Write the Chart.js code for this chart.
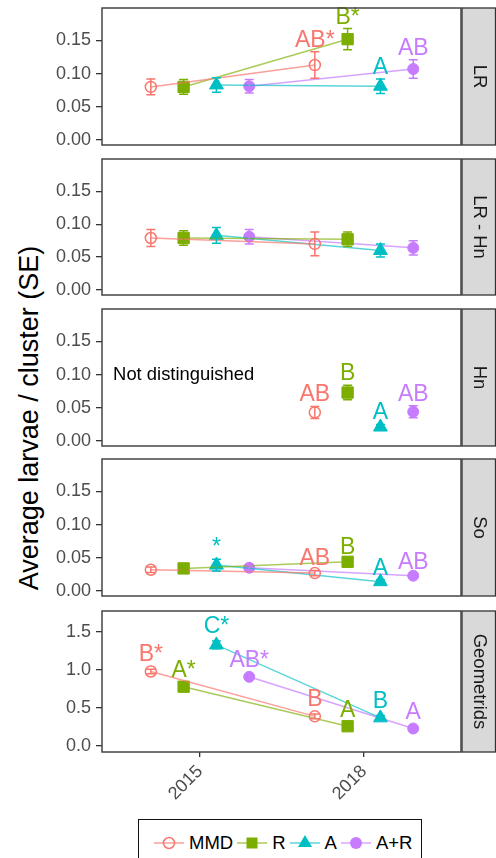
<!DOCTYPE html>
<html>
<head>
<meta charset="utf-8">
<script src="https://cdn.jsdelivr.net/npm/chart.js@4.4.1/dist/chart.umd.min.js"></script>
<style>
  html, body { margin: 0; padding: 0; background: #fff; }
  body { width: 496px; height: 858px; position: relative; overflow: hidden;
         font-family: 'Liberation Sans', Arial, sans-serif; }
  canvas { position: absolute; left: 0; }
  #ytitle { position: absolute; left: 29px; top: 418px; line-height: 1;
            transform: translate(-50%, -50%) rotate(-90deg);
            white-space: nowrap; font-size: 27px; color: #000; }
  #legend { position: absolute; left: 138px; top: 819px; width: 284px; height: 60px;
            border: 1.5px solid #111; display: flex; align-items: flex-start;
            padding: 13px 0 0 15px; box-sizing: border-box; font-size: 18.5px; color: #000; }
  #legend .item { display: flex; align-items: center; }
  #legend svg { display: block; }
  #legend .lab { margin: 0 4px 0 5px; line-height: 20px; }
</style>
</head>
<body>
<div id="ytitle">Average larvae / cluster (SE)</div>
<div id="legend"></div>
<script>
// facets, groups and sampling years
const panels = ['LR', 'LR - Hn', 'Hn', 'So', 'Geometrids'];
const groups = ['MMD', 'R', 'A', 'A+R'];
const years = [2015, 2018];

// means per group as [2015, 2018]
const meanLR   = [[0.080, 0.113], [0.080, 0.152], [0.083, 0.081], [0.081, 0.107]];
const meanLRHn = [[0.079, 0.070], [0.079, 0.077], [0.083, 0.060], [0.081, 0.064]];
const meanHn   = [[null, 0.043], [null, 0.073], [null, 0.021], [null, 0.044]];
const meanSo   = [[0.032, 0.027], [0.034, 0.044], [0.039, 0.014], [0.035, 0.023]];
const meanGeo  = [[0.98, 0.39], [0.78, 0.26], [1.33, 0.37], [0.91, 0.23]];

// standard errors, same layout
const seLR   = [[0.012, 0.020], [0.011, 0.016], [0.011, 0.011], [0.010, 0.014]];
const seLRHn = [[0.013, 0.018], [0.011, 0.011], [0.012, 0.010], [0.011, 0.011]];
const seHn   = [[null, 0.009], [null, 0.011], [null, 0.004], [null, 0.009]];
const seSo   = [[0.004, 0.004], [0.003, 0.004], [0.009, 0.003], [0.004, 0.003]];
const seGeo  = [[0.03, 0.03], [0.02, 0.02], [0.05, 0.03], [0.02, 0.02]];

// significance letters
const letLR   = [['', 'AB*'], ['', 'B*'], ['', 'A'], ['', 'AB']];
const letLRHn = [['', ''], ['', ''], ['', ''], ['', '']];
const letHn   = [['', 'AB'], ['', 'B'], ['', 'A'], ['', 'AB']];
const letSo   = [['', 'AB'], ['', 'B'], ['*', 'A'], ['', 'AB']];
const letGeo  = [['B*', 'B'], ['A*', 'A'], ['C*', 'B'], ['AB*', 'A']];

const yTicksSmall = [0, 0.05, 0.10, 0.15];
const yTicksGeo = [0, 0.5, 1.0, 1.5];

const means = [meanLR, meanLRHn, meanHn, meanSo, meanGeo];
const ses = [seLR, seLRHn, seHn, seSo, seGeo];
const lets = [letLR, letLRHn, letHn, letSo, letGeo];
const yTicks = [yTicksSmall, yTicksSmall, yTicksSmall, yTicksSmall, yTicksGeo];

// look
const colors = ['#F8766D', '#7CAE00', '#00BFC4', '#C77CFF'];
const lineColors = ['rgba(248,118,109,0.7)', 'rgba(124,174,0,0.65)', 'rgba(0,191,196,0.65)', 'rgba(199,124,255,0.7)'];
const shapes = ['circle', 'rect', 'triangle', 'circle'];
const filled = [false, true, true, true];
const radii = [5.5, 8, 8, 5.5];
const dodge = [-0.9, -0.3, 0.3, 0.9];

const boxTop = [8, 159, 309, 459, 611];
const boxBottom = [145, 295, 446, 596, 752];
const yMin = [-0.0076, -0.0076, -0.0076, -0.0076, -0.079];
const yMax = [0.199, 0.199, 0.199, 0.199, 1.776];
const labelGap = [5, 5, 5, 5, 8];
const PAD = 20;

Chart.defaults.font.family = "'Liberation Sans', Arial, sans-serif";

const facetPlugin = {
  id: 'facet',
  afterDatasetsDraw(chart, args, opts) {
    const { ctx, scales: { x, y } } = chart;
    const p = opts.panel;
    ctx.save();
    groups.forEach((g, gi) => {
      years.forEach((yr, ti) => {
        const m = means[p][gi][ti];
        if (m == null) return;
        const s = ses[p][gi][ti];
        const px = x.getPixelForValue(yr + dodge[gi]);
        const top = y.getPixelForValue(m + s);
        const bot = y.getPixelForValue(m - s);
        ctx.strokeStyle = colors[gi];
        ctx.lineWidth = 1.5;
        ctx.beginPath();
        ctx.moveTo(px, top); ctx.lineTo(px, bot);
        ctx.moveTo(px - 4.5, top); ctx.lineTo(px + 4.5, top);
        ctx.moveTo(px - 4.5, bot); ctx.lineTo(px + 4.5, bot);
        ctx.stroke();
        const lab = lets[p][gi][ti];
        if (lab) {
          ctx.fillStyle = colors[gi];
          ctx.font = "23px 'Liberation Sans', Arial, sans-serif";
          ctx.textAlign = 'center';
          ctx.textBaseline = 'alphabetic';
          ctx.fillText(lab, px, top - labelGap[p]);
        }
      });
    });
    if (panels[p] === 'Hn') {
      ctx.fillStyle = '#000';
      ctx.font = "18.4px 'Liberation Sans', Arial, sans-serif";
      ctx.textAlign = 'left';
      ctx.textBaseline = 'middle';
      ctx.fillText('Not distinguished', x.getPixelForValue(2013.41), y.getPixelForValue(0.1));
    }
    ctx.restore();
  },
  afterDraw(chart, args, opts) {
    const { ctx, chartArea: a, width } = chart;
    ctx.save();
    // strip
    ctx.fillStyle = '#D9D9D9';
    ctx.fillRect(a.right + 1, a.top, width - a.right - 1, a.bottom - a.top);
    ctx.strokeStyle = '#333';
    ctx.lineWidth = 1.3;
    ctx.strokeRect(a.right + 1, a.top, width - a.right - 1.5, a.bottom - a.top);
    ctx.fillStyle = '#1A1A1A';
    ctx.font = "18.5px 'Liberation Sans', Arial, sans-serif";
    ctx.textAlign = 'center';
    ctx.textBaseline = 'middle';
    ctx.translate((a.right + 1 + width) / 2, (a.top + a.bottom) / 2);
    ctx.rotate(Math.PI / 2);
    ctx.fillText(panels[opts.panel], 0, 0);
    ctx.restore();
    // panel border
    ctx.save();
    ctx.strokeStyle = '#444';
    ctx.lineWidth = 1.5;
    ctx.strokeRect(a.left, a.top, a.right - a.left, a.bottom - a.top);
    ctx.restore();
  }
};

panels.forEach((name, p) => {
  const last = p === panels.length - 1;
  const cv = document.createElement('canvas');
  const top = boxTop[p] - PAD;
  const h = last ? 819 - top : (boxBottom[p] - boxTop[p]) + 2 * PAD;
  cv.width = 496; cv.height = h;
  cv.style.top = top + 'px';
  cv.style.width = '496px'; cv.style.height = h + 'px';
  document.body.appendChild(cv);

  new Chart(cv, {
    type: 'scatter',
    data: {
      datasets: groups.map((g, gi) => ({
        label: g,
        data: years.map((yr, ti) => ({ x: yr + dodge[gi], y: means[p][gi][ti] })),
        showLine: true,
        borderColor: lineColors[gi],
        borderWidth: 1.5,
        pointStyle: shapes[gi],
        pointRadius: radii[gi],
        pointBackgroundColor: filled[gi] ? colors[gi] : 'rgba(255,255,255,0)',
        pointBorderColor: colors[gi],
        pointBorderWidth: filled[gi] ? 1 : 1.5
      }))
    },
    options: {
      responsive: false,
      animation: false,
      events: [],
      clip: false,
      layout: { padding: { top: PAD, bottom: last ? 0 : PAD, left: 0, right: 35 } },
      plugins: { legend: { display: false }, tooltip: { enabled: false }, facet: { panel: p } },
      scales: {
        x: {
          type: 'linear',
          display: last,
          min: 2013.207,
          max: 2019.774,
          afterBuildTicks: s => { s.ticks = years.map(v => ({ value: v })); },
          afterFit: s => { s.height = last ? 67 : 0; },
          grid: { drawOnChartArea: false, drawTicks: true, tickLength: 5, color: '#333', lineWidth: 1.3 },
          border: { display: false },
          ticks: {
            color: '#4D4D4D', font: { size: 18 }, padding: 4,
            minRotation: 45, maxRotation: 45,
            callback: v => String(v)
          }
        },
        y: {
          type: 'linear',
          min: yMin[p],
          max: yMax[p],
          afterBuildTicks: s => { s.ticks = yTicks[p].map(v => ({ value: v })); },
          afterFit: s => { s.width = 102; },
          grid: { drawOnChartArea: false, drawTicks: true, tickLength: 6, color: '#333', lineWidth: 1.3 },
          border: { display: false },
          ticks: {
            color: '#4D4D4D', font: { size: 18 }, padding: 5,
            callback: v => v.toFixed(last ? 1 : 2)
          }
        }
      }
    },
    plugins: [facetPlugin]
  });
});

// legend keys: line + marker, like the plot
function keySvg(i) {
  const c = colors[i];
  let mk = '';
  if (shapes[i] === 'circle' && !filled[i]) mk = `<circle cx="15" cy="10" r="5.5" fill="none" stroke="${c}" stroke-width="1.5"/>`;
  else if (shapes[i] === 'circle') mk = `<circle cx="15" cy="10" r="6" fill="${c}"/>`;
  else if (shapes[i] === 'rect') mk = `<rect x="9.5" y="4.5" width="11" height="11" fill="${c}"/>`;
  else mk = `<polygon points="15,2 22,14 8,14" fill="${c}"/>`;
  return `<svg width="30" height="20"><line x1="0" y1="10" x2="30" y2="10" stroke="${lineColors[i]}" stroke-width="1.5"/>${mk}</svg>`;
}
const legend = document.getElementById('legend');
groups.forEach((g, i) => {
  const item = document.createElement('span');
  item.className = 'item';
  item.innerHTML = keySvg(i) + '<span class="lab">' + g + '</span>';
  legend.appendChild(item);
});
</script>
</body>
</html>
